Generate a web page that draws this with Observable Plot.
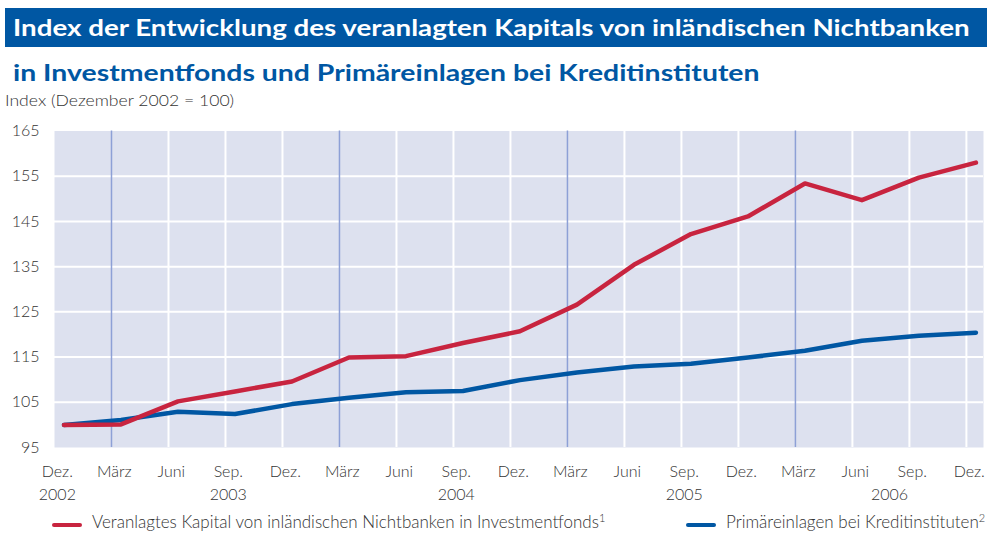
<!DOCTYPE html>
<html><head><meta charset="utf-8">
<script src="https://cdn.jsdelivr.net/npm/d3@7"></script>
<script src="https://cdn.jsdelivr.net/npm/@observablehq/plot@0.6"></script>
<style>
body{margin:0;width:987px;height:534px;position:relative;background:#fff;font-family:Lato,"Open Sans",sans-serif;overflow:hidden}
#t1{position:absolute;left:5px;top:8px;width:982px;height:39px;background:#0057a3;}
#t1 span{position:absolute;left:8px;top:0;color:#fff;font-weight:700;font-size:22px;line-height:39px;white-space:nowrap;transform-origin:0 50%;transform:scaleX(1.26)}
#t2{position:absolute;left:13px;top:58px;color:#0057a3;font-weight:700;font-size:22px;line-height:30px;white-space:nowrap;transform-origin:0 50%;transform:scaleX(1.29)}
#unit{position:absolute;left:5px;top:90px;font-size:16px;line-height:20px;color:#333;font-weight:300;white-space:nowrap;transform-origin:0 50%;transform:scaleX(1.1)}
#chart{position:absolute;left:0;top:115px}
.leg{position:absolute;top:512px;font-size:17px;line-height:20px;color:#333;white-space:nowrap;font-weight:300}
.sw{position:absolute;top:11px;height:4px;border-radius:2px}
sup{font-size:11px;line-height:0;vertical-align:6px}
</style></head>
<body>
<div id="t1"><span>Index der Entwicklung des veranlagten Kapitals von inländischen Nichtbanken</span></div>
<div id="t2">in Investmentfonds und Primäreinlagen bei Kreditinstituten</div>
<div id="unit">Index (Dezember 2002 = 100)</div>
<div id="chart"></div>
<div class="leg" style="left:52px"><span class="sw" style="left:0;width:30px;background:#c8243f"></span><span style="margin-left:40px">Veranlagtes Kapital von inländischen Nichtbanken in Investmentfonds<sup>1</sup></span></div>
<div class="leg" style="left:686px"><span class="sw" style="left:0;width:30px;background:#0057a3"></span><span style="margin-left:40px">Primäreinlagen bei Kreditinstituten<sup>2</sup></span></div>
<script>
const quarters = ["Dez.","März","Juni","Sep.","Dez.","März","Juni","Sep.","Dez.","März","Juni","Sep.","Dez.","März","Juni","Sep.","Dez."];
const investmentfonds = [100,100.1,105.2,107.4,109.6,114.9,115.2,118.1,120.7,126.6,135.4,142.2,146.1,153.4,149.7,154.7,158];
const primaereinlagen = [100,101.1,102.9,102.4,104.6,106.0,107.2,107.5,109.9,111.6,112.9,113.5,114.9,116.4,118.6,119.7,120.4];
const yearLabels = [{year:"2002", q:0},{year:"2003", q:3},{year:"2004", q:7},{year:"2005", q:11},{year:"2006", q:14.6}];
const yTicks = [95,105,115,125,135,145,155,165];

const rows = quarters.map((q,i)=>({i, m: i*3+0.5, inv: investmentfonds[i], prim: primaereinlagen[i]}));
const qIdx = quarters.map((q,i)=>i);
const marchIdx = qIdx.filter(i=>quarters[i]==="März");
const otherIdx = qIdx.filter(i=>quarters[i]!=="März" && i>0);

const chart = Plot.plot({
  width: 987, height: 395,
  marginLeft: 54, marginRight: 4, marginTop: 15.5, marginBottom: 63,
  style: {fontFamily: "Lato, 'Open Sans', sans-serif", fontSize: "16px", color:"#333", background:"transparent", overflow:"visible"},
  x: {domain: [0, 48.9], axis: null},
  y: {domain: [95,165], axis: null},
  marks: [
    Plot.frame({fill:"#dde1ef", stroke:null}),
    Plot.ruleY(yTicks.slice(1,-1), {stroke:"#fff", strokeWidth:2}),
    Plot.ruleX(otherIdx, {x: i=>i*3, stroke:"#fff", strokeWidth:2}),
    Plot.ruleX(marchIdx, {x: i=>i*3, stroke:"#8da0d6", strokeWidth:1.5}),
    Plot.line(rows, {x:"m", y:"prim", stroke:"#0057a3", strokeWidth:4.5}),
    Plot.line(rows, {x:"m", y:"inv", stroke:"#c8243f", strokeWidth:4.5}),
    Plot.text(yTicks, {x: 0, y: d=>d, text: d=>String(d), textAnchor:"end", dx:-15, fill:"#333", fontWeight:300, fontSize:16}),
    Plot.text(qIdx, {x: i=>i*3+0.15, y: 95, text: i=>quarters[i], dy:24, fill:"#333", fontWeight:300, fontSize:16}),
    Plot.text(yearLabels, {x: d=>d.q*3+0.15, y: 95, text: "year", dy:47, fill:"#333", fontWeight:300, fontSize:16})
  ]
});
document.getElementById("chart").appendChild(chart);
</script>
</body></html>
